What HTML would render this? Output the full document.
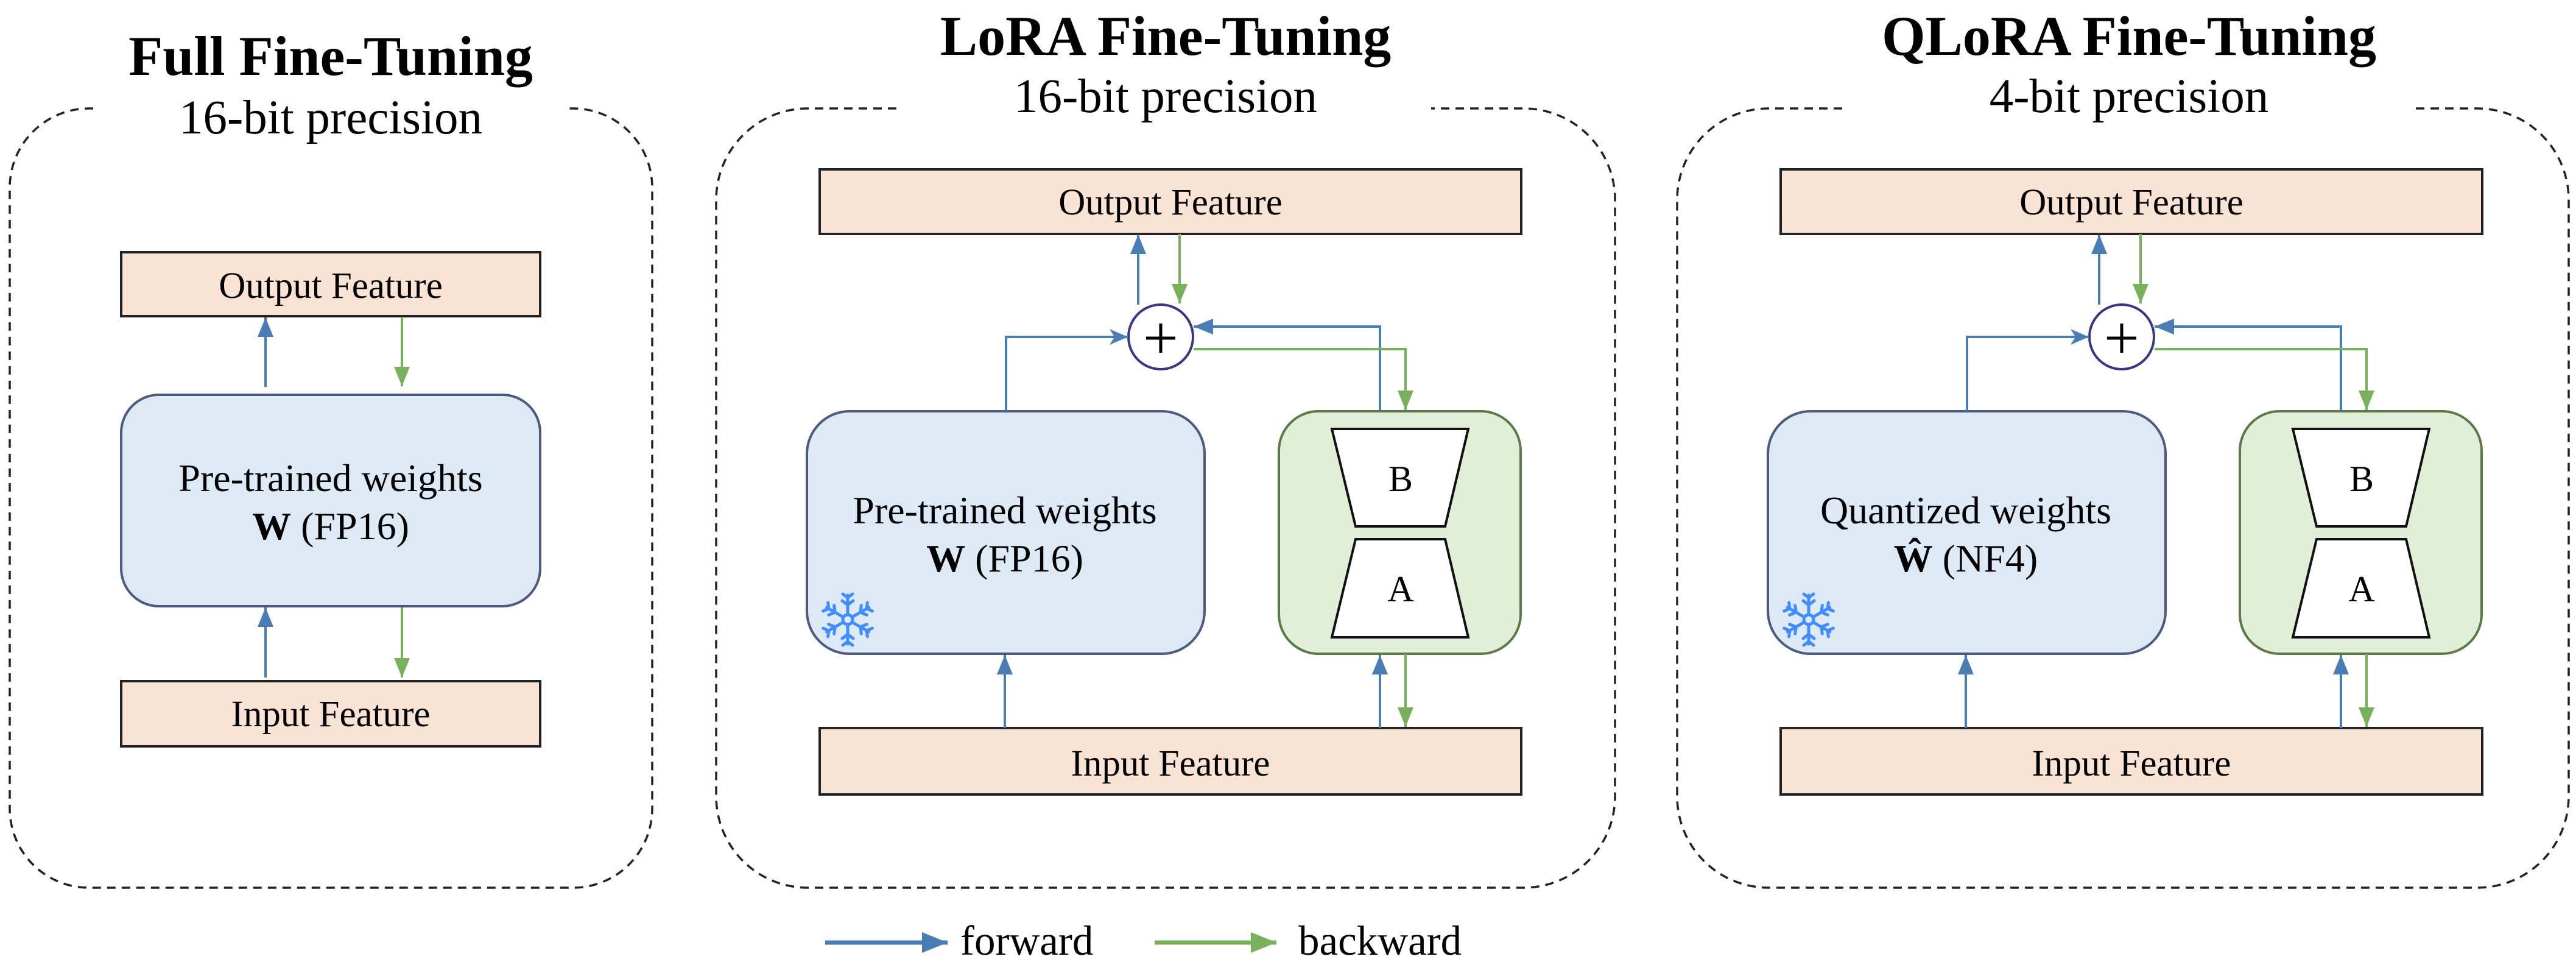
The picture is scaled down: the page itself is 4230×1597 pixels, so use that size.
<!DOCTYPE html>
<html><head><meta charset="utf-8"><style>
html,body{margin:0;padding:0;background:#fff;}
svg{display:block;}
</style></head><body>
<svg width="4230" height="1597" viewBox="0 0 4230 1597" xmlns="http://www.w3.org/2000/svg" font-family="'Liberation Serif','DejaVu Serif','Times New Roman',serif">
<defs>
<marker id="bh" markerUnits="userSpaceOnUse" markerWidth="40" markerHeight="40" refX="32" refY="13" orient="auto"><path d="M0,0 L32,13 L0,26 z" fill="#4a7db3"/></marker>
<marker id="gh" markerUnits="userSpaceOnUse" markerWidth="40" markerHeight="40" refX="32" refY="13" orient="auto"><path d="M0,0 L32,13 L0,26 z" fill="#79b05c"/></marker>
<marker id="bs" markerUnits="userSpaceOnUse" markerWidth="40" markerHeight="40" refX="30" refY="13" orient="auto"><path d="M0,0 L30,13 L0,26 L8,13 z" fill="#4a7db3"/></marker>
<marker id="bl" markerUnits="userSpaceOnUse" markerWidth="50" markerHeight="50" refX="42" refY="17" orient="auto"><path d="M0,0 L42,17 L0,34 z" fill="#4a7db3"/></marker>
<marker id="gl" markerUnits="userSpaceOnUse" markerWidth="50" markerHeight="50" refX="42" refY="17" orient="auto"><path d="M0,0 L42,17 L0,34 z" fill="#79b05c"/></marker>
</defs>

<!-- ===== Panel 1 ===== -->
<path d="M153,178 L146,178 A130,130 0 0 0 16,308 L16,1327 A130,130 0 0 0 146,1457 L941,1457 A130,130 0 0 0 1071,1327 L1071,308 A130,130 0 0 0 941,178 L934,178" fill="none" stroke="#222" stroke-width="3.5" stroke-dasharray="14,10"/>
<text x="543" y="123" font-size="92" font-weight="bold" text-anchor="middle">Full Fine-Tuning</text>
<text x="543" y="219" font-size="79" text-anchor="middle">16-bit precision</text>
<rect x="199" y="414" width="688" height="105" fill="#f9e3d5" stroke="#222" stroke-width="4"/>
<text x="543" y="489" font-size="61" text-anchor="middle">Output Feature</text>
<rect x="199" y="648" width="688" height="347" rx="62" fill="#dee9f6" stroke="#4b5a7e" stroke-width="4"/>
<text x="543" y="806" font-size="64" text-anchor="middle">Pre-trained weights</text>
<text x="543" y="885" font-size="64" text-anchor="middle"><tspan font-weight="bold">W</tspan> (FP16)</text>
<rect x="199" y="1118" width="688" height="107" fill="#f9e3d5" stroke="#222" stroke-width="4"/>
<text x="543" y="1192" font-size="61" text-anchor="middle">Input Feature</text>
<line x1="436" y1="635" x2="436" y2="521" stroke="#4a7db3" stroke-width="4" marker-end="url(#bh)"/>
<line x1="660" y1="520" x2="660" y2="634" stroke="#79b05c" stroke-width="4" marker-end="url(#gh)"/>
<line x1="436" y1="1112" x2="436" y2="997" stroke="#4a7db3" stroke-width="4" marker-end="url(#bh)"/>
<line x1="660" y1="997" x2="660" y2="1112" stroke="#79b05c" stroke-width="4" marker-end="url(#gh)"/>

<!-- ===== Panel 2 template ===== -->
<g id="p2">
<rect x="1346" y="278" width="1152" height="106" fill="#f9e3d5" stroke="#222" stroke-width="4"/>
<text x="1922" y="352" font-size="61" text-anchor="middle">Output Feature</text>
<rect x="1325" y="675" width="653" height="398" rx="70" fill="#dee9f6" stroke="#4b5a7e" stroke-width="4"/>
<rect x="2100" y="675" width="397" height="398" rx="65" fill="#e1eed8" stroke="#5b7a47" stroke-width="4"/>
<polygon points="2187,704 2411,704 2373,864 2226,864" fill="#fff" stroke="#111" stroke-width="4"/>
<polygon points="2226,885 2373,885 2411,1046 2187,1046" fill="#fff" stroke="#111" stroke-width="4"/>
<text x="2300" y="806" font-size="60" text-anchor="middle">B</text>
<text x="2300" y="987" font-size="60" text-anchor="middle">A</text>
<rect x="1346" y="1195" width="1152" height="109" fill="#f9e3d5" stroke="#222" stroke-width="4"/>
<text x="1922" y="1273" font-size="61" text-anchor="middle">Input Feature</text>
<circle cx="1906" cy="553" r="53" fill="#fff" stroke="#3b3585" stroke-width="4"/>
<path d="M1882,555 L1930,555 M1906,531 L1906,579" stroke="#000" stroke-width="5"/>
<line x1="1869" y1="500" x2="1869" y2="385" stroke="#4a7db3" stroke-width="4" marker-end="url(#bh)"/>
<line x1="1937" y1="384" x2="1937" y2="498" stroke="#79b05c" stroke-width="4" marker-end="url(#gh)"/>
<polyline points="1652,675 1652,553 1852,553" fill="none" stroke="#4a7db3" stroke-width="4" marker-end="url(#bs)"/>
<polyline points="2266,675 2266,536 1960,536" fill="none" stroke="#4a7db3" stroke-width="4" marker-end="url(#bh)"/>
<polyline points="1960,573 2308,573 2308,673" fill="none" stroke="#79b05c" stroke-width="4" marker-end="url(#gh)"/>
<line x1="1650" y1="1195" x2="1650" y2="1075" stroke="#4a7db3" stroke-width="4" marker-end="url(#bh)"/>
<line x1="2266" y1="1195" x2="2266" y2="1075" stroke="#4a7db3" stroke-width="4" marker-end="url(#bh)"/>
<line x1="2308" y1="1073" x2="2308" y2="1193" stroke="#79b05c" stroke-width="4" marker-end="url(#gh)"/>
<g transform="translate(1392,1017)" stroke="#3f8dff" stroke-width="5" fill="none" stroke-linecap="round">
<g transform="rotate(0)"><path d="M0,-9 L0,-40 M-9,-31 L0,-24 L9,-31 M-8,-42 L0,-36 L8,-42"/></g>
<g transform="rotate(60)"><path d="M0,-9 L0,-40 M-9,-31 L0,-24 L9,-31 M-8,-42 L0,-36 L8,-42"/></g>
<g transform="rotate(120)"><path d="M0,-9 L0,-40 M-9,-31 L0,-24 L9,-31 M-8,-42 L0,-36 L8,-42"/></g>
<g transform="rotate(180)"><path d="M0,-9 L0,-40 M-9,-31 L0,-24 L9,-31 M-8,-42 L0,-36 L8,-42"/></g>
<g transform="rotate(240)"><path d="M0,-9 L0,-40 M-9,-31 L0,-24 L9,-31 M-8,-42 L0,-36 L8,-42"/></g>
<g transform="rotate(300)"><path d="M0,-9 L0,-40 M-9,-31 L0,-24 L9,-31 M-8,-42 L0,-36 L8,-42"/></g>
<circle r="8"/>
</g>
</g>
<path d="M1472,178 L1326,178 A150,150 0 0 0 1176,328 L1176,1307 A150,150 0 0 0 1326,1457 L2502,1457 A150,150 0 0 0 2652,1307 L2652,328 A150,150 0 0 0 2502,178 L2350,178" fill="none" stroke="#222" stroke-width="3.5" stroke-dasharray="14,10"/>
<text x="1914" y="90" font-size="92" font-weight="bold" text-anchor="middle">LoRA Fine-Tuning</text>
<text x="1914" y="184" font-size="79" text-anchor="middle">16-bit precision</text>
<text x="1650" y="859" font-size="64" text-anchor="middle">Pre-trained weights</text>
<text x="1650" y="938" font-size="64" text-anchor="middle"><tspan font-weight="bold">W</tspan> (FP16)</text>

<!-- Panel 3 -->
<use href="#p2" x="1578" y="0"/>
<path d="M3025,178 L2904,178 A150,150 0 0 0 2754,328 L2754,1307 A150,150 0 0 0 2904,1457 L4068,1457 A150,150 0 0 0 4218,1307 L4218,328 A150,150 0 0 0 4068,178 L3964,178" fill="none" stroke="#222" stroke-width="3.5" stroke-dasharray="14,10"/>
<text x="3496" y="90" font-size="92" font-weight="bold" text-anchor="middle">QLoRA Fine-Tuning</text>
<text x="3496" y="184" font-size="79" text-anchor="middle">4-bit precision</text>
<text x="3228" y="859" font-size="64" text-anchor="middle">Quantized weights</text>
<text x="3228" y="938" font-size="64" text-anchor="middle"><tspan font-weight="bold">Ŵ</tspan> (NF4)</text>

<!-- Legend -->
<line x1="1355" y1="1547" x2="1556" y2="1547" stroke="#4a7db3" stroke-width="7" marker-end="url(#bl)"/>
<text x="1577" y="1567" font-size="69">forward</text>
<line x1="1896" y1="1547" x2="2096" y2="1547" stroke="#79b05c" stroke-width="7" marker-end="url(#gl)"/>
<text x="2132" y="1567" font-size="69">backward</text>
</svg>
</body></html>
